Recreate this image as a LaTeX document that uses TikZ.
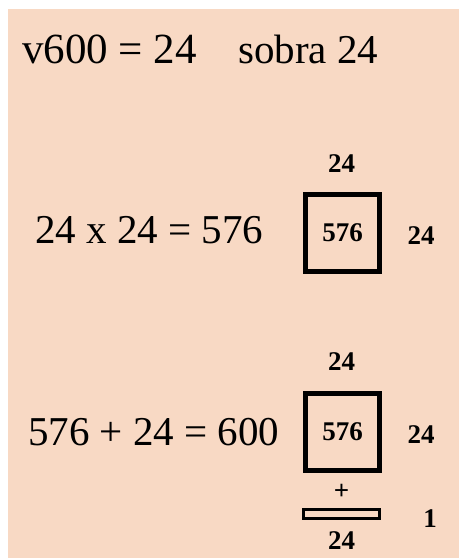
\documentclass[tikz,border=0pt]{standalone}
\usepackage{fontspec}
\setmainfont{Liberation Serif}
\usetikzlibrary{positioning}
\definecolor{peach}{RGB}{248,217,196}

\begin{document}
\begin{tikzpicture}[x=1pt, y=-1pt,
  eqn/.style={inner sep=0pt, anchor=base west, font=\fontsize{41}{48}\selectfont},
  lbl/.style={inner sep=0pt, font=\fontsize{27}{30}\selectfont\bfseries},
  sqbox/.style={draw, line width=5pt, minimum width=74pt, minimum height=77pt, inner sep=0pt, font=\fontsize{27}{30}\selectfont\bfseries},
  strip/.style={draw, line width=3pt, minimum width=76pt, minimum height=9pt, inner sep=0pt}]
\useasboundingbox (0,0) rectangle (462,558);
\fill[peach] (8,9) rectangle (459,558);
% first line
\node[eqn, font=\fontsize{43}{48}\selectfont] (root) at (22,63) {v600 = 24};
\node[eqn] (rest) at (238,63) {sobra 24};
% square 24 x 24
\node[eqn] (mult) at (35,243) {24 x 24 = 576};
\node[sqbox] (sq1) at (342.5,233) {576};
\node[lbl] (top1) at (341.5,164) {24};
\node[lbl] (side1) at (421,236) {24};
% square plus strip
\node[eqn] (sum) at (28,445) {576 + 24 = 600};
\node[sqbox] (sq2) at (342.5,432) {576};
\node[lbl] (top2) at (341.5,362) {24};
\node[lbl] (side2) at (421,435) {24};
\node[lbl] (plus) at (341.5,492) {+};
\node[strip] (strip) at (341.5,514) {};
\node[lbl] (bot) at (341.5,541) {24};
\node[lbl] (one) at (430,519) {1};
\end{tikzpicture}
\end{document}
